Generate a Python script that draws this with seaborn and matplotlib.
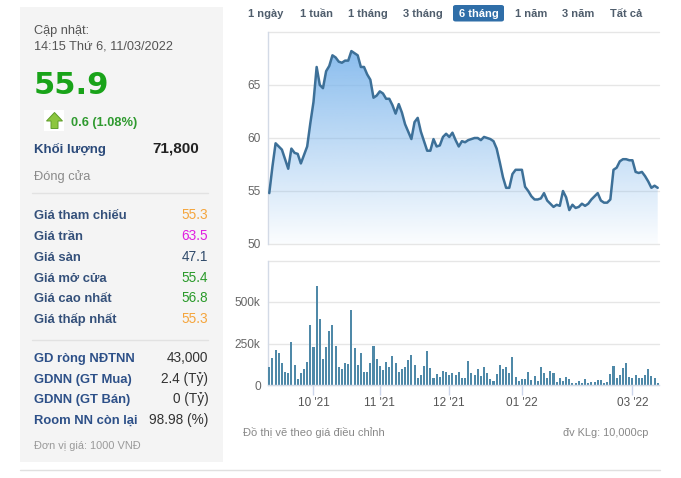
import numpy as np
import pandas as pd
import matplotlib
matplotlib.use("Agg")
import matplotlib.pyplot as plt
import seaborn as sns
from matplotlib.patches import Rectangle, FancyBboxPatch, Polygon
from matplotlib.lines import Line2D
from matplotlib.colors import to_rgb

# ---------------- data ----------------
start_date = "2021-09-13"
end_date = "2022-03-11"
holidays = ["2022-01-03", "2022-01-31", "2022-02-01", "2022-02-02", "2022-02-03", "2022-02-04"]

price = [54.8, 57.3, 59.5, 59.2, 58.9, 58.0, 57.1, 59.0, 58.6, 58.5,
         57.6, 58.4, 59.2, 61.4, 63.4, 66.7, 65.0, 64.7, 66.3, 66.8,
         67.8, 67.6, 67.2, 67.1, 67.3, 67.3, 68.2, 68.0, 67.8, 66.7,
         66.7, 66.0, 65.5, 63.8, 64.0, 64.4, 64.2, 63.7, 63.7, 63.1,
         62.3, 63.2, 62.4, 61.3, 60.6, 59.9, 61.5, 61.9, 60.6, 59.7,
         58.8, 58.8, 59.9, 59.2, 59.3, 60.1, 60.4, 60.1, 60.5, 59.8,
         59.2, 59.7, 59.6, 59.8, 59.9, 60.0, 60.0, 59.8, 60.1, 60.0,
         59.9, 59.7, 59.0, 57.7, 56.3, 55.3, 55.3, 56.6, 57.0, 57.0,
         57.0, 55.4, 55.0, 54.5, 54.2, 54.2, 54.3, 54.8, 54.1, 53.8,
         53.5, 53.7, 53.6, 55.0, 54.4, 53.2, 53.7, 53.4, 53.5, 53.8,
         53.6, 53.8, 54.2, 54.5, 54.8, 54.1, 53.9, 53.9, 54.2, 57.0,
         57.2, 57.8, 58.0, 58.0, 57.9, 57.9, 56.8, 56.7, 56.8, 56.4,
         55.9, 55.3, 55.5, 55.3]

volume_k = [110, 165, 211, 195, 134, 80, 74, 261, 120, 36,
            74, 96, 140, 361, 231, 598, 397, 157, 231, 327,
            361, 235, 106, 96, 134, 126, 452, 225, 120, 195,
            78, 78, 134, 235, 157, 114, 90, 140, 106, 175,
            134, 80, 94, 110, 150, 181, 120, 42, 60, 114,
            207, 102, 44, 66, 50, 86, 80, 60, 70,
            60, 76, 44, 40, 144, 74, 60, 96, 56, 110,
            74, 36, 26, 66, 120, 96, 110, 74, 170, 46,
            26, 36, 36, 80, 30, 56, 26, 110, 74, 40,
            86, 70, 20, 40, 26, 50, 36, 10, 14, 26,
            10, 36, 10, 20, 20, 30, 30, 10, 20, 66,
            114, 40, 60, 100, 134, 50, 40, 60, 44, 44,
            60, 96, 56, 40, 10]

tick_months = ["2021-10", "2021-11", "2021-12", "2022-01", "2022-03"]
tick_labels = ["10 '21", "11 '21", "12 '21", "01 '22", "03 '22"]
price_ticks = [50, 55, 60, 65, 70]
price_tick_labels = ["50", "55", "60", "65", ""]
vol_ticks = [0, 250000, 500000, 750000]
vol_tick_labels = ["0", "250k", "500k", ""]

range_buttons = ["1 ngày", "1 tuần", "1 tháng", "3 tháng", "6 tháng", "1 năm", "3 năm", "Tất cả"]
selected_button = "6 tháng"

update_label = "Cập nhật:"
update_time = "14:15 Thứ 6, 11/03/2022"
last_price = "55.9"
change_text = "0.6 (1.08%)"
volume_label = "Khối lượng"
volume_value = "71,800"
status_text = "Đóng cửa"

price_rows = ["Giá tham chiếu", "Giá trần", "Giá sàn", "Giá mở cửa", "Giá cao nhất", "Giá thấp nhất"]
price_row_values = ["55.3", "63.5", "47.1", "55.4", "56.8", "55.3"]
price_row_colors = ["#f5a53c", "#e01fe0", "#2f4a6a", "#2a9a2a", "#2a9a2a", "#f5a53c"]

foreign_rows = ["GD ròng NĐTNN", "GDNN (GT Mua)", "GDNN (GT Bán)", "Room NN còn lại"]
foreign_values = ["43,000", "2.4 (Tỷ)", "0 (Tỷ)", "98.98 (%)"]
unit_note = "Đơn vị giá: 1000 VNĐ"
footer_left = "Đồ thị vẽ theo giá điều chỉnh"
footer_right = "đv KLg: 10,000cp"

# ---------------- prep ----------------
days = pd.bdate_range(start_date, end_date)
days = days[~days.isin(pd.to_datetime(holidays))]
n = len(price)
periods = days.to_period("M")
tick_pos = [int(np.argmax(periods == pd.Period(m))) for m in tick_months]
df = pd.DataFrame({"idx": np.arange(n), "price": price,
                   "volume": np.array(volume_k) * 1000})

sns.set_style("white")
plt.rcParams["font.family"] = ["Liberation Sans", "DejaVu Sans"]

W, H = 681, 478
fig = plt.figure(figsize=(W / 100, H / 100), dpi=100)
fig.patch.set_facecolor("white")


def fx(x):
    return x / W


def fy(y):
    return 1 - y / H


def txt(x, y, s, **kw):
    kw.setdefault("va", "baseline")
    return fig.text(fx(x), fy(y), s, **kw)


def hline(x0, x1, y, color, lw=1.0):
    fig.add_artist(Line2D([fx(x0), fx(x1)], [fy(y), fy(y)],
                          transform=fig.transFigure, color=color, lw=lw))


# ---------------- left panel ----------------
fig.add_artist(Rectangle((fx(20), fy(462)), (223 - 20) / W, (462 - 7) / H,
                         transform=fig.transFigure, fc="#f4f4f4", ec="none", zorder=-5))

txt(34, 34.3, update_label, fontsize=9.2, color="#555555")
txt(34, 49.3, update_time, fontsize=9.2, color="#555555")
txt(34, 93.5, last_price, fontsize=22, fontweight="bold", color="#19a319",
    family=["DejaVu Sans"])

# up arrow icon
fig.add_artist(Rectangle((fx(44), fy(131)), 20 / W, 21 / H, transform=fig.transFigure,
                         fc="white", ec="none"))
arrow = [(46.5, 121), (54.5, 112.5), (62.5, 121), (58, 121), (58, 128.5), (51, 128.5), (51, 121)]
fig.add_artist(Polygon([(fx(a), fy(b)) for a, b in arrow], closed=True,
                       transform=fig.transFigure, fc="#8cc63f", ec="#5f9e2c", lw=0.7))
txt(71, 126, change_text, fontsize=9.2, fontweight="bold", color="#2f9a2f")

txt(34, 152.7, volume_label, fontsize=9.5, fontweight="bold", color="#2b4a7a")
txt(199, 152.5, volume_value, fontsize=11, fontweight="bold", color="#222222", ha="right")
txt(34, 180, status_text, fontsize=9.3, color="#8a8a8a")

hline(32, 208, 193.3, "#e2e2e2")
for i, (lab, val, col) in enumerate(zip(price_rows, price_row_values, price_row_colors)):
    y = 219.3 + i * 20.8
    txt(34, y, lab, fontsize=9.4, fontweight="bold", color="#34507a")
    txt(208.3, y, val, fontsize=9.8, color=col, ha="right")

hline(32, 208, 340, "#e2e2e2")
for i, (lab, val) in enumerate(zip(foreign_rows, foreign_values)):
    y = 361.7 + i * 20.8
    txt(34, y, lab, fontsize=9.4, fontweight="bold", color="#2d5088")
    txt(208.3, y, val, fontsize=9.8, color="#333333", ha="right")
txt(34, 449.3, unit_note, fontsize=7.9, color="#9a9a9a")

# ---------------- range buttons ----------------
btn_centers = [266, 316, 368, 423, 479, 531, 578, 626]
for lab, cx in zip(range_buttons, btn_centers):
    if lab == selected_button:
        fig.add_artist(FancyBboxPatch((fx(453), fy(21.5)), (504 - 453) / W, (21.5 - 5) / H,
                                      boxstyle="round,pad=0,rounding_size=0.004",
                                      transform=fig.transFigure, fc="#2f6ea8", ec="none"))
        txt(cx, 17.3, lab, fontsize=8, fontweight="bold", color="white", ha="center")
    else:
        txt(cx, 17.3, lab, fontsize=8, fontweight="bold", color="#4f5d6c", ha="center")

# ---------------- price chart ----------------
ax_left, ax_right = 267.7, 658.5
ax_p = fig.add_axes([fx(ax_left), fy(244), (ax_right - ax_left) / W, (244 - 32) / H])
ax_p.set_facecolor("white")
xlim = (-0.5, n - 1 + 0.25)

poly = ax_p.fill_between(df["idx"], df["price"], 50, color="none", lw=0)
grad = np.ones((256, 1, 4))
grad[..., :3] = to_rgb("#7cb5ec")
grad[:, 0, 3] = np.linspace(0.97, 0.03, 256)
im = ax_p.imshow(grad, extent=[xlim[0], xlim[1], 50, 70], aspect="auto",
                 origin="upper", zorder=1)
im.set_clip_path(poly.get_paths()[0], transform=ax_p.transData)

sns.lineplot(data=df, x="idx", y="price", ax=ax_p, color="#3d7098", linewidth=1.8, zorder=3)

ax_p.set_xlim(*xlim)
ax_p.set_ylim(50, 70)
ax_p.set_yticks(price_ticks)
ax_p.set_yticklabels(price_tick_labels)
ax_p.set_xticks([])
ax_p.grid(axis="y", color="#e6e6e6", lw=1)
ax_p.grid(axis="x", visible=False)
ax_p.set_axisbelow(True)
for gl in ax_p.get_ygridlines():
    gl.set_clip_on(False)
for s in ["top", "right", "bottom"]:
    ax_p.spines[s].set_visible(False)
ax_p.spines["left"].set_color("#d3dae6")
ax_p.spines["left"].set_linewidth(1)
ax_p.tick_params(axis="y", length=0, pad=5, labelsize=8.6, labelcolor="#666666")
ax_p.set_xlabel("")
ax_p.set_ylabel("")

# ---------------- volume chart ----------------
ax_v = fig.add_axes([fx(ax_left), fy(385), (ax_right - ax_left) / W, (385 - 260.5) / H])
ax_v.set_facecolor("white")
sns.barplot(data=df, x="idx", y="volume", ax=ax_v, color="#4f89a8", saturation=1,
            width=0.64, errorbar=None, native_scale=True, linewidth=0, zorder=3)
for p in ax_v.patches:
    p.set_antialiased(False)
    p.set_snap(True)
ax_v.set_xlim(*xlim)
ax_v.set_ylim(0, 750000)
ax_v.set_yticks(vol_ticks)
ax_v.set_yticklabels(vol_tick_labels)
ax_v.set_xticks(tick_pos)
ax_v.set_xticklabels(tick_labels)
ax_v.grid(axis="y", color="#e6e6e6", lw=1)
ax_v.grid(axis="x", visible=False)
ax_v.set_axisbelow(True)
for gl in ax_v.get_ygridlines():
    gl.set_clip_on(False)
for s in ["top", "right"]:
    ax_v.spines[s].set_visible(False)
for s in ["left", "bottom"]:
    ax_v.spines[s].set_color("#d3dae6")
    ax_v.spines[s].set_linewidth(1)
ax_v.spines["bottom"].set_zorder(4)
ax_v.tick_params(axis="y", length=0, pad=5, labelsize=8.6, labelcolor="#666666")
ax_v.tick_params(axis="x", bottom=True, length=7, width=1, color="#ccd6eb", pad=1.5,
                 labelsize=8.5, labelcolor="#555555")
ax_v.set_xlabel("")
ax_v.set_ylabel("")

# ---------------- footer ----------------
txt(242.7, 435.7, footer_left, fontsize=8, color="#888888")
txt(648.3, 435.7, footer_right, fontsize=7.9, color="#888888", ha="right")
hline(20, 660, 470, "#e0e0e0")

fig.savefig("out.png", dpi=100, facecolor="white")
